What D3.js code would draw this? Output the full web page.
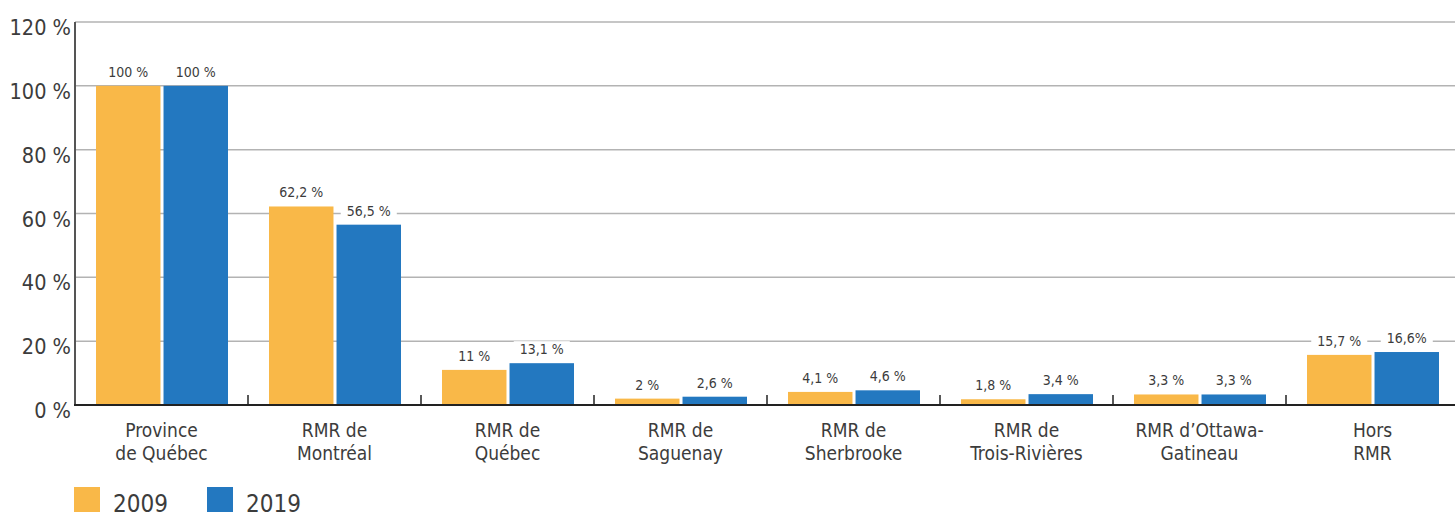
<!DOCTYPE html>
<html>
<head>
<meta charset="utf-8">
<script src="https://cdn.jsdelivr.net/npm/d3@7"></script>
<style>
	body { margin: 0; background: #fff; }
	svg { display: block; font-family: "DejaVu Sans Condensed", "Liberation Sans", sans-serif; }
</style>
</head>
<body>
<svg id="chart" width="1455" height="512"></svg>
<script>
const categories = [
	['Province', 'de Québec'],
	['RMR de', 'Montréal'],
	['RMR de', 'Québec'],
	['RMR de', 'Saguenay'],
	['RMR de', 'Sherbrooke'],
	['RMR de', 'Trois-Rivières'],
	['RMR d’Ottawa-', 'Gatineau'],
	['Hors', 'RMR'],
];
const years = ['2009', '2019'];
const values2009 = [100, 62.2, 11, 2, 4.1, 1.8, 3.3, 15.7];
const values2019 = [100, 56.5, 13.1, 2.6, 4.6, 3.4, 3.3, 16.6];
const labels2009 = ['100 %', '62,2 %', '11 %', '2 %', '4,1 %', '1,8 %', '3,3 %', '15,7 %'];
const labels2019 = ['100 %', '56,5 %', '13,1 %', '2,6 %', '4,6 %', '3,4 %', '3,3 %', '16,6%'];
const yTicks = [0, 20, 40, 60, 80, 100, 120];
const colors = { '2009': '#f9b848', '2019': '#2378c0' };

const svg = d3.select('#chart');
const plotLeft = 75;
const plotRight = 1459;
const plotTop = 22;
const plotBottom = 405;
const textColor = '#3c3c3c';

const x = d3.scaleBand()
	.domain(d3.range(categories.length))
	.range([plotLeft, plotRight]);
const x1 = d3.scaleBand()
	.domain(years)
	.range([21, 153])
	.paddingInner(0.045);
const y = d3.scaleLinear()
	.domain([0, 120])
	.range([plotBottom, plotTop]);

// gridlines
svg.append('g')
	.selectAll('line')
	.data(yTicks.filter((t) => t > 0))
	.enter().append('line')
	.attr('x1', plotLeft)
	.attr('x2', 1455)
	.attr('y1', (d) => y(d))
	.attr('y2', (d) => y(d))
	.attr('stroke', '#b3b3b3')
	.attr('stroke-width', 1.5);

// y tick labels
svg.append('g')
	.selectAll('text')
	.data(yTicks)
	.enter().append('text')
	.attr('x', 71)
	.attr('y', (d) => y(d) + 13)
	.attr('text-anchor', 'end')
	.attr('font-size', 21.5)
	.attr('fill', textColor)
	.text((d) => `${d} %`);

// bars
const rows = categories.map((c, i) => ({
	i,
	bars: [
		{ year: '2009', value: values2009[i], label: labels2009[i] },
		{ year: '2019', value: values2019[i], label: labels2019[i] },
	],
}));

const groups = svg.append('g')
	.selectAll('g')
	.data(rows)
	.enter().append('g')
	.attr('transform', (d) => `translate(${x(d.i)},0)`);

groups.selectAll('rect')
	.data((d) => d.bars)
	.enter().append('rect')
	.attr('x', (d) => x1(d.year))
	.attr('width', x1.bandwidth())
	.attr('y', (d) => y(d.value))
	.attr('height', (d) => plotBottom - y(d.value))
	.attr('fill', (d) => colors[d.year]);

// value labels with white background over gridlines
const labelLayer = svg.append('g');
rows.forEach((row) => {
	row.bars.forEach((b) => {
		const cx = x(row.i) + x1(b.year) + x1.bandwidth() / 2;
		const g = labelLayer.append('g');
		const t = g.append('text')
			.attr('x', cx)
			.attr('y', y(b.value) - 9)
			.attr('text-anchor', 'middle')
			.attr('font-size', 14)
			.attr('fill', textColor)
			.text(b.label);
		const bb = t.node().getBBox();
		g.insert('rect', 'text')
			.attr('x', bb.x - 6)
			.attr('y', bb.y)
			.attr('width', bb.width + 12)
			.attr('height', bb.height)
			.attr('fill', '#fff');
	});
});

// axes
svg.append('line')
	.attr('x1', plotLeft).attr('x2', plotLeft)
	.attr('y1', plotTop).attr('y2', plotBottom)
	.attr('stroke', '#555')
	.attr('stroke-width', 2);
svg.append('line')
	.attr('x1', plotLeft - 1).attr('x2', 1455)
	.attr('y1', plotBottom).attr('y2', plotBottom)
	.attr('stroke', '#222')
	.attr('stroke-width', 2);
svg.append('g')
	.selectAll('line')
	.data(d3.range(1, categories.length))
	.enter().append('line')
	.attr('x1', (d) => x(d))
	.attr('x2', (d) => x(d))
	.attr('y1', plotBottom - 10)
	.attr('y2', plotBottom)
	.attr('stroke', '#222')
	.attr('stroke-width', 1.5);

// category labels
const catText = svg.append('g')
	.selectAll('text')
	.data(rows)
	.enter().append('text')
	.attr('text-anchor', 'middle')
	.attr('font-size', 19)
	.attr('fill', textColor);
catText.each(function (d) {
	const t = d3.select(this);
	categories[d.i].forEach((line, k) => {
		t.append('tspan')
			.attr('x', x(d.i) + x.bandwidth() / 2)
			.attr('y', 437 + k * 23)
			.text(line);
	});
});

// legend (cut by the bottom edge, as in the source image)
const legend = svg.append('g')
	.selectAll('g')
	.data(years)
	.enter().append('g')
	.attr('transform', (d, i) => `translate(${74 + i * 133},487)`);
legend.append('rect')
	.attr('width', 26)
	.attr('height', 30)
	.attr('fill', (d) => colors[d]);
legend.append('text')
	.attr('x', 39)
	.attr('y', 25)
	.attr('font-size', 24)
	.attr('fill', textColor)
	.text((d) => d);
</script>
</body>
</html>
